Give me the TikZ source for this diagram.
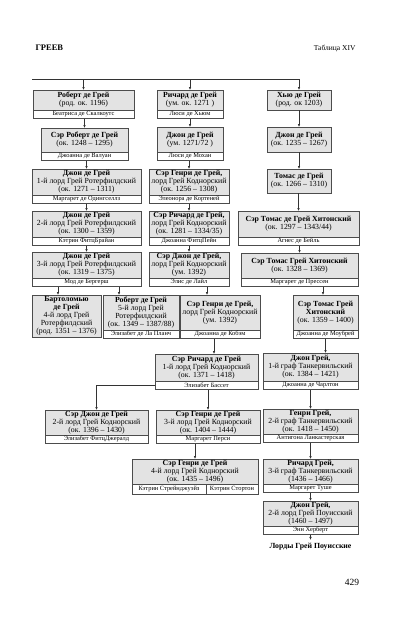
\documentclass[tikz,border=0pt]{standalone}
\usepackage{fontspec}
\setmainfont{Liberation Serif}
\usetikzlibrary{arrows.meta,positioning,calc}
\tikzset{
  pbox/.style={draw=black!70, fill=black!11, align=center, inner sep=0pt, outer sep=0pt, line width=0.6pt, anchor=north, font=\fontsize{7.8}{8}\selectfont},
  sbox/.style={draw=black!70, fill=white, align=center, inner sep=0pt, outer sep=0pt, line width=0.6pt, minimum height=8.5pt, font=\fontsize{6.4}{6.5}\selectfont},
  size/.style 2 args={minimum width=#1pt, minimum height=#2pt},
  line/.style={-{Latex[length=3pt,width=2.6pt]}, line width=0.6pt, black!80}
}

\begin{document}
\begin{tikzpicture}[x=1pt,y=-1pt]
        \useasboundingbox (0,0) rectangle (401,632);
        \node[anchor=base west, font=\bfseries\fontsize{8.5}{9}\selectfont] (title) at (32,50) {ГРЕЕВ};
        \node[anchor=base east, font=\fontsize{7.5}{8}\selectfont] (table) at (359,50) {Таблица XIV};
        \node[font=\fontsize{9.5}{10}\selectfont] (page) at (352,582) {429};
        % left column
        \node[pbox, size={101}{20}] (rob1) at (83.5,90) {\textbf{Роберт де Грей}\\(род. ок. 1196)};
        \node[sbox, minimum width=101pt, below=0pt of rob1] (rob1s) {Беатриса де Скалкоутс};
        \node[pbox, size={87}{24}] (rob2) at (84.5,128) {\textbf{Сэр Роберт де Грей}\\(ок. 1248 – 1295)};
        \node[sbox, minimum width=87pt, below=0pt of rob2] (rob2s) {Джоанна де Валуан};
        \node[pbox, size={109}{26}] (john1) at (86.5,169) {\textbf{Джон де Грей}\\1-й лорд Грей Ротерфилдский\\(ок. 1271 – 1311)};
        \node[sbox, minimum width=109pt, below=0pt of john1] (john1s) {Маргарет де Одингселлз};
        \node[pbox, size={109}{26}] (john2) at (86.5,211) {\textbf{Джон де Грей}\\2-й лорд Грей Ротерфилдский\\(ок. 1300 – 1359)};
        \node[sbox, minimum width=109pt, below=0pt of john2] (john2s) {Кэтрин ФитцБрайан};
        \node[pbox, size={109}{26}] (john3) at (86.5,252) {\textbf{Джон де Грей}\\3-й лорд Грей Ротерфилдский\\(ок. 1319 – 1375)};
        \node[sbox, minimum width=109pt, below=0pt of john3] (john3s) {Мод де Бергерш};
        \node[pbox, size={69}{42}] (bart) at (66.5,295) {\textbf{Бартоломью}\\\textbf{де Грей}\\4-й лорд Грей\\Ротерфилдский\\(род. 1351 – 1376)};
        \node[pbox, size={76}{35}] (rob5) at (141,295) {\textbf{Роберт де Грей}\\5-й лорд Грей\\Ротерфилдский\\(ок. 1349 – 1387/88)};
        \node[sbox, minimum width=76pt, below=0pt of rob5] (rob5s) {Элизабет де Ла Планч};
        % middle column
        \node[pbox, size={66}{20}] (ric) at (190,90) {\textbf{Ричард де Грей}\\(ум. ок. 1271 )};
        \node[sbox, minimum width=66pt, below=0pt of ric] (rics) {Люси де Хьюм};
        \node[pbox, size={66}{25}] (johnm) at (190,127) {\textbf{Джон де Грей}\\(ум. 1271/72 )};
        \node[sbox, minimum width=66pt, below=0pt of johnm] (johnms) {Люси де Мохан};
        \node[pbox, size={80}{26}] (hen1) at (189,169) {\textbf{Сэр Генри де Грей,}\\лорд Грей Коднорский\\(ок. 1256 – 1308)};
        \node[sbox, minimum width=80pt, below=0pt of hen1] (hen1s) {Элеонора де Кортеней};
        \node[pbox, size={80}{26}] (ric2) at (189,211) {\textbf{Сэр Ричард де Грей,}\\лорд Грей Коднорский\\(ок. 1281 – 1334/35)};
        \node[sbox, minimum width=80pt, below=0pt of ric2] (ric2s) {Джоанна ФитцПейн};
        \node[pbox, size={80}{26}] (johnc) at (189,252) {\textbf{Сэр Джон де Грей,}\\лорд Грей Коднорский\\(ум. 1392)};
        \node[sbox, minimum width=80pt, below=0pt of johnc] (johncs) {Элис де Лайл};
        \node[pbox, size={80}{35}] (hen2) at (220,295) {\textbf{Сэр Генри де Грей,}\\лорд Грей Коднорский\\(ум. 1392)};
        \node[sbox, minimum width=80pt, below=0pt of hen2] (hen2s) {Джоанна де Кобэм};
        \node[pbox, size={103}{27}] (ric3) at (206.5,354) {\textbf{Сэр Ричард де Грей}\\1-й лорд Грей Коднорский\\(ок. 1371 – 1418)};
        \node[sbox, minimum width=103pt, below=0pt of ric3] (ric3s) {Элизабет Бассет};
        \node[pbox, size={103}{25}] (johnc2) at (96.5,410) {\textbf{Сэр Джон де Грей}\\2-й лорд Грей Коднорский\\(ок. 1396 – 1430)};
        \node[sbox, minimum width=103pt, below=0pt of johnc2] (johnc2s) {Элизабет ФитцДжералд};
        \node[pbox, size={104}{25}] (hen3) at (208,410) {\textbf{Сэр Генри де Грей}\\3-й лорд Грей Коднорский\\(ок. 1404 – 1444)};
        \node[sbox, minimum width=104pt, below=0pt of hen3] (hen3s) {Маргарет Перси};
        \node[pbox, size={126}{25}] (hen4) at (195,459) {\textbf{Сэр Генри де Грей}\\4-й лорд Грей Коднорский\\(ок. 1435 – 1496)};
        \node[sbox, anchor=north west, minimum width=74pt, minimum height=10pt] (hen4a) at (hen4.south west) {Кэтрин Стрейнджуэйз};
        \node[sbox, anchor=north east, minimum width=52pt, minimum height=10pt] (hen4b) at (hen4.south east) {Кэтрин Стортон};
        % right column
        \node[pbox, size={64}{20}] (hugh) at (299,90) {\textbf{Хью де Грей}\\(род. ок 1203)};
        \node[pbox, size={64}{25}] (johnr) at (299,127) {\textbf{Джон де Грей}\\(ок. 1235 – 1267)};
        \node[pbox, size={64}{24}] (thom) at (299,169) {\textbf{Томас де Грей}\\(ок. 1266 – 1310)};
        \node[pbox, size={121}{26}] (thom1) at (298.5,211) {\textbf{Сэр Томас де Грей Хитонский}\\(ок. 1297 – 1343/44)};
        \node[sbox, minimum width=121pt, below=0pt of thom1] (thom1s) {Агнес де Бейль};
        \node[pbox, size={117}{25}] (thom2) at (299.5,253) {\textbf{Сэр Томас Грей Хитонский}\\(ок. 1328 – 1369)};
        \node[sbox, minimum width=117pt, below=0pt of thom2] (thom2s) {Маргарет де Прессен};
        \node[pbox, size={65}{35}] (thom3) at (325.5,295) {\textbf{Сэр Томас Грей}\\\textbf{Хитонский}\\(ок. 1359 – 1400)};
        \node[sbox, minimum width=65pt, below=0pt of thom3] (thom3s) {Джоанна де Моубрей};
        \node[pbox, size={95}{28}] (johnt) at (310.5,353) {\textbf{Джон Грей,}\\1-й граф Танкервильский\\(ок. 1384 – 1421)};
        \node[sbox, minimum width=95pt, below=0pt of johnt] (johnts) {Джоанна де Чарлтон};
        \node[pbox, size={95}{25}] (hent) at (310.5,409) {\textbf{Генри Грей,}\\2-й граф Танкервильский\\(ок. 1418 – 1450)};
        \node[sbox, minimum width=95pt, below=0pt of hent] (hents) {Антигона Ланкастерская};
        \node[pbox, size={95}{25}] (rict) at (310.5,459) {\textbf{Ричард Грей,}\\3-й граф Танкервильский\\(1436 – 1466)};
        \node[sbox, minimum width=95pt, below=0pt of rict] (ricts) {Маргарет Туше};
        \node[pbox, size={95}{25}] (johnp) at (310.5,501) {\textbf{Джон Грей,}\\2-й лорд Грей Поуисский\\(1460 – 1497)};
        \node[sbox, minimum width=95pt, below=0pt of johnp] (johnps) {Энн Херберт};
        \node[font=\bfseries\fontsize{7.8}{8}\selectfont] (powis) at (310.5,547) {Лорды Грей Поуисские};
        % connectors
        \coordinate (tl) at (32,79);
        \coordinate (bt) at (58,295);
        \coordinate (rt) at (119,295);
        \coordinate (ht) at (207,295);
        \coordinate (rc) at (214,354);
        \coordinate (tt) at (323,295);
        \draw[line] (tl) -| (hugh.north);
        \draw[line] (rob1.north |- tl) -- (rob1.north);
        \draw[line] (ric.north |- tl) -- (ric.north);
        \draw[line] (rob2.north |- rob1s.south) -- (rob2.north);
        \draw[line] (john1.north |- rob2s.south) -- (john1.north);
        \draw[line] (john2.north |- john1s.south) -- (john2.north);
        \draw[line] (john3.north |- john2s.south) -- (john3.north);
        \draw[line] (bt |- john3s.south) -- (bt);
        \draw[line] (rt |- john3s.south) -- (rt);
        \draw[line] (johnm.north |- rics.south) -- (johnm.north);
        \draw[line] (hen1.north |- johnms.south) -- (hen1.north);
        \draw[line] (ric2.north |- hen1s.south) -- (ric2.north);
        \draw[line] (johnc.north |- ric2s.south) -- (johnc.north);
        \draw[line] (ht |- johncs.south) -- (ht);
        \draw[line] (rc |- hen2s.south) -- (rc);
        \draw[line] (ric3s.west) -| (johnc2.north);
        \draw[line] (hen3.north |- ric3s.south) -- (hen3.north);
        \draw[line] (hen4.north |- hen3s.south) -- (hen4.north);
        \draw[line] (hugh.south) -- (johnr.north);
        \draw[line] (johnr.south) -- (thom.north);
        \draw[line] (thom1.north |- thom.south) -- (thom1.north);
        \draw[line] (thom2.north |- thom1s.south) -- (thom2.north);
        \draw[line] (tt |- thom2s.south) -- (tt);
        \draw[line] (thom3s.south) -- (thom3s.south |- johnt.north);
        \draw[line] (johnts.south) -- (hent.north);
        \draw[line] (hents.south) -- (rict.north);
        \draw[line] (ricts.south) -- (johnp.north);
        \draw[line] (johnps.south) -- (powis.north);
      \end{tikzpicture}
\end{document}
